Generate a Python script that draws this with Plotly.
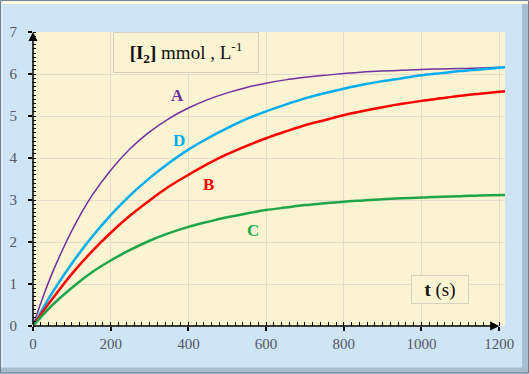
import plotly.graph_objects as go

# ---- data ----
t = [0, 25, 50, 100, 150, 200, 250, 300, 350, 400, 450, 500, 550, 600, 650, 700, 750,
     800, 850, 900, 950, 1000, 1050, 1100, 1150, 1215]
A = [0, 0.67, 1.27, 2.27, 3.08, 3.71, 4.22, 4.62, 4.94, 5.19, 5.39, 5.55, 5.68, 5.78, 5.86,
     5.92, 5.97, 6.01, 6.05, 6.07, 6.09, 6.11, 6.12, 6.13, 6.14, 6.16]
D = [0, 0.41, 0.80, 1.49, 2.10, 2.64, 3.11, 3.52, 3.88, 4.20, 4.47, 4.71, 4.93, 5.11, 5.27,
     5.42, 5.54, 5.65, 5.75, 5.83, 5.90, 5.97, 6.02, 6.07, 6.11, 6.16]
B = [0, 0.34, 0.65, 1.24, 1.76, 2.22, 2.63, 2.99, 3.32, 3.60, 3.86, 4.09, 4.29, 4.47, 4.63,
     4.78, 4.90, 5.02, 5.12, 5.21, 5.29, 5.36, 5.42, 5.48, 5.53, 5.59]
C = [0, 0.26, 0.50, 0.91, 1.27, 1.56, 1.81, 2.03, 2.21, 2.36, 2.48, 2.59, 2.68, 2.76, 2.82,
     2.88, 2.92, 2.96, 2.99, 3.02, 3.04, 3.06, 3.08, 3.09, 3.11, 3.12]

x_ticks = [0, 200, 400, 600, 800, 1000, 1200]
y_ticks = [0, 1, 2, 3, 4, 5, 6, 7]

series = [
    ("A", A, "#7030a0", 1.5, 373, 5.48),
    ("D", D, "#00aeef", 2.5, 376, 4.41),
    ("B", B, "#ff0000", 2.5, 453, 3.36),
    ("C", C, "#1fa549", 2.5, 567, 2.28),
]

W, H = 529, 374
L, R, T, Bm = 33, 24, 32, 47.5
pw, ph = W - L - R, H - T - Bm

def px(xp):
    return (xp - L) / pw

def py(yp):
    return (H - Bm - yp) / ph

fig = go.Figure()
for name, vals, col, lw, lx, ly in series:
    fig.add_trace(go.Scatter(x=t, y=vals, mode="lines", name=name,
                             line=dict(color=col, width=lw, shape="spline", smoothing=1.0),
                             showlegend=False, hoverinfo="skip"))

serif = "Liberation Serif, Times New Roman, serif"
annotations = []
for name, vals, col, lw, lx, ly in series:
    annotations.append(dict(x=lx, y=ly, xref="x", yref="y", text="<b>%s</b>" % name,
                            showarrow=False, font=dict(family=serif, size=17, color=col)))

# axis arrows
annotations.append(dict(x=1200, y=0, ax=0, ay=0, xref="x", yref="y", axref="x", ayref="y",
                        text="", showarrow=True, arrowhead=2, arrowsize=1.2, arrowwidth=1.5,
                        arrowcolor="#000000"))
annotations.append(dict(x=0, y=7, ax=0, ay=0, xref="x", yref="y", axref="x", ayref="y",
                        text="", showarrow=True, arrowhead=2, arrowsize=1.2, arrowwidth=1.5,
                        arrowcolor="#000000"))

# label boxes
annotations.append(dict(x=px(113), y=py(32), xref="paper", yref="paper",
                        text="<b>[I<sub>2</sub>]</b> mmol , L<sup>-1</sup>", showarrow=False,
                        font=dict(family=serif, size=19, color="#111111"),
                        bgcolor="#fbf4d3", bordercolor="#d6d0bf", borderwidth=1,
                        width=140, height=35, borderpad=2))
annotations.append(dict(x=px(468.5), y=py(304), xref="paper", yref="paper",
                        text="<b>t</b> (s)", showarrow=False,
                        font=dict(family=serif, size=19, color="#111111"),
                        bgcolor="#fbf4d3", bordercolor="#d6d0bf", borderwidth=1,
                        width=52, height=23, borderpad=2))

shapes = [
    dict(type="rect", xref="paper", yref="paper", x0=px(0), x1=px(W), y0=py(0), y1=py(4),
         fillcolor="#fdf9e2", line=dict(width=0), layer="below"),
    dict(type="rect", xref="paper", yref="paper", x0=px(0), x1=px(3), y0=py(0), y1=py(H),
         fillcolor="#e2effa", line=dict(width=0), layer="below"),
    dict(type="rect", xref="paper", yref="paper", x0=px(W - 7), x1=px(W), y0=py(4), y1=py(H),
         fillcolor="#a9bfd2", line=dict(width=0), layer="below"),
    dict(type="rect", xref="paper", yref="paper", x0=px(0), x1=px(W), y0=py(H - 6), y1=py(H),
         fillcolor="#a7bccd", line=dict(width=0), layer="below"),
    dict(type="rect", xref="paper", yref="paper", x0=px(0.5), x1=px(W - 0.5), y0=py(0.5), y1=py(H - 0.5),
         fillcolor="rgba(0,0,0,0)", line=dict(width=1, color="#6f7f8f"), layer="below"),
]

fig.update_layout(
    width=W, height=H,
    margin=dict(l=L, r=R, t=T, b=Bm, pad=0, autoexpand=False),
    paper_bgcolor="#cfe5f5",
    plot_bgcolor="#fbf4d3",
    annotations=annotations,
    shapes=shapes,
    showlegend=False,
)
tickfont = dict(family=serif, size=15, color="#555566")
fig.update_xaxes(range=[0, 1215], tickvals=x_ticks, ticktext=[str(v) for v in x_ticks],
                 showgrid=True, gridcolor="#e6dccb", gridwidth=1, zeroline=False, showline=False,
                 ticks="outside", ticklen=4, tickwidth=1.5, tickcolor="#000000",
                 minor=dict(dtick=20, tick0=0, ticks="inside", ticklen=4, tickcolor="#000000",
                            tickwidth=1, showgrid=False),
                 tickfont=tickfont, automargin=False, fixedrange=True)
fig.update_yaxes(range=[0, 7], tickvals=y_ticks, ticktext=[str(v) for v in y_ticks],
                 showgrid=True, gridcolor="#e6dccb", gridwidth=1, zeroline=False, showline=False,
                 ticks="outside", ticklen=4, tickwidth=1.5, tickcolor="#000000",
                 minor=dict(dtick=0.1, tick0=0, ticks="inside", ticklen=3, tickcolor="#000000",
                            tickwidth=1, showgrid=False),
                 tickfont=tickfont, ticklabelstandoff=8, automargin=False, fixedrange=True)

fig.write_html("out.html", config={"displayModeBar": False},
               post_script="document.body.style.margin='0';document.body.style.padding='0';")
